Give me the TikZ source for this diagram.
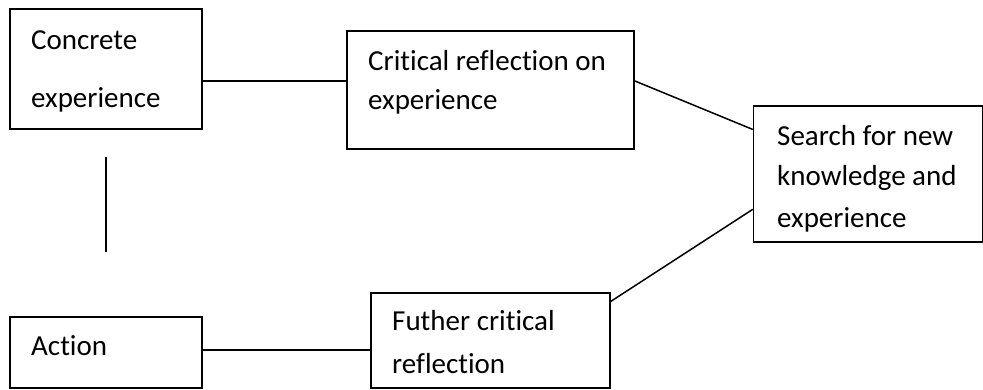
\documentclass[tikz,border=0pt]{standalone}
\usepackage{fontspec}
\setmainfont{Carlito}[Ligatures={NoCommon}]
\usetikzlibrary{calc}
\begin{document}
\begin{tikzpicture}[x=1pt,y=-1pt,
  box/.style={draw=black, line width=1.5pt, rectangle, inner sep=0pt},
  txt/.style={anchor=base west, inner sep=0pt, font=\fontsize{29}{34}\selectfont},
  conn/.style={draw=black, line width=1.5pt}]
\useasboundingbox (0,0) rectangle (983,389);
% boxes
\node[box, minimum width=192pt, minimum height=120pt] (A) at (106,69) {};
\node[box, minimum width=287pt, minimum height=118pt] (B) at (490.5,90) {};
\node[box, minimum width=229pt, minimum height=136pt] (C) at (868,174) {};
\node[box, minimum width=239pt, minimum height=95pt] (D) at (490.5,340.5) {};
\node[box, minimum width=192pt, minimum height=71pt] (E) at (106,352.5) {};
% texts
\node[txt] (a1) at (31,49) {Concrete};
\node[txt] (a2) at (31,107) {experience};
\node[txt] (b1) at (368,70) {Critical reflection on};
\node[txt] (b2) at (368,109) {experience};
\node[txt] (c1) at (777,145) {Search for new};
\node[txt] (c2) at (777,185) {knowledge and};
\node[txt] (c3) at (777,227) {experience};
\node[txt] (d1) at (392,330) {Futher critical};
\node[txt] (d2) at (392,373) {reflection};
\node[txt] (e1) at (31,355) {Action};
% connectors
\coordinate (ab) at ($(A.north east)!0.6!(A.south east)$);
\draw[conn] (ab) -- (ab -| B.west);
\draw[conn] ($(B.north east)!0.424!(B.south east)$) -- ($(C.north west)!0.176!(C.south west)$);
\draw[conn] ($(D.north east)!0.095!(D.south east)$) -- ($(C.north west)!0.757!(C.south west)$);
\coordinate (ed) at ($(E.north east)!0.465!(E.south east)$);
\draw[conn] (ed) -- (ed -| D.west);
\coordinate (v1) at ($(A.south)+(0,27)$);
\coordinate (v2) at ($(E.north)+(0,-64)$);
\draw[conn] (v1) -- (v2);
\end{tikzpicture}
\end{document}
